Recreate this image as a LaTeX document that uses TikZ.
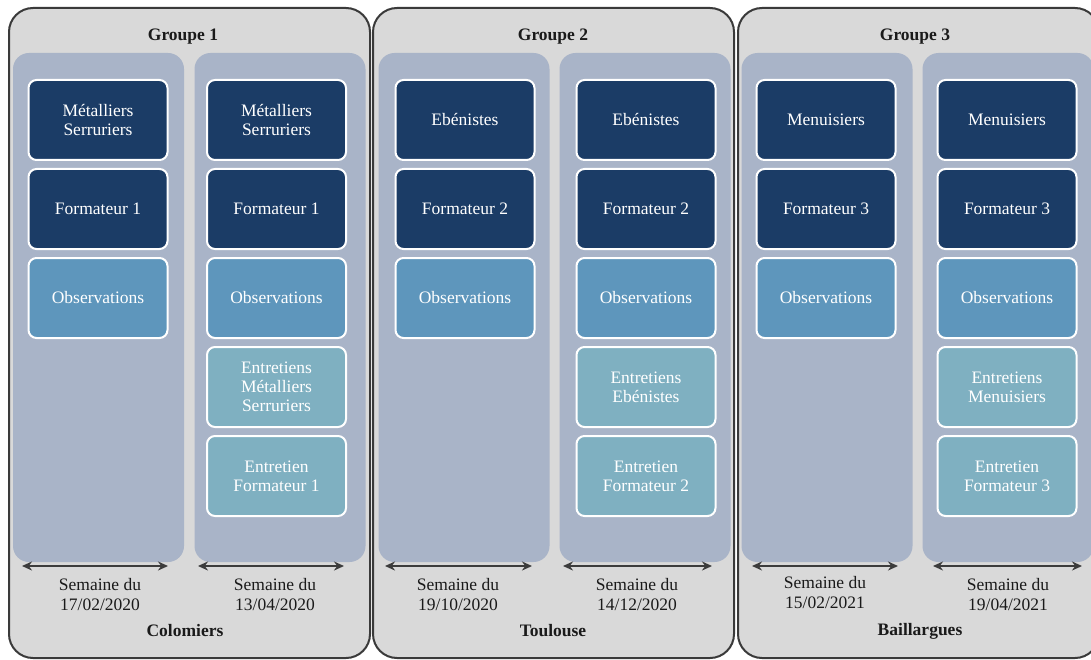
\documentclass[tikz,border=0pt]{standalone}
\usepackage{fontspec}
\setmainfont{Liberation Serif}
\usetikzlibrary{arrows.meta}
\definecolor{panelfill}{HTML}{D9D9D9}
\definecolor{panelline}{HTML}{3A3A3A}
\definecolor{colfill}{HTML}{A9B4C8}
\definecolor{navy}{HTML}{1B3C66}
\definecolor{obsblue}{HTML}{5E96BC}
\definecolor{entteal}{HTML}{7FB0C1}
\definecolor{arrowgray}{HTML}{3C3C3C}
\definecolor{txtdark}{HTML}{1A1A1A}
\begin{document}
\begin{tikzpicture}[x=1pt,y=-1pt,
  panel/.style={draw=panelline, line width=2pt, fill=panelfill, rounded corners=24pt, minimum width=361pt, minimum height=650pt, inner sep=0pt},
  colbg/.style={fill=colfill, rounded corners=16pt, minimum width=171pt, minimum height=509pt, inner sep=0pt},
  box/.style={draw=white, line width=2pt, rounded corners=8pt, minimum width=139pt, minimum height=80pt, text=white, align=center, font=\fontsize{17.5}{19}\selectfont, inner sep=2pt},
  dark/.style={box, fill=navy},
  obs/.style={box, fill=obsblue},
  ent/.style={box, fill=entteal},
  grtitle/.style={font=\fontsize{17.5}{20}\selectfont\bfseries, text=txtdark},
  week/.style={align=center, font=\fontsize{17.5}{20}\selectfont, text=txtdark},
  weekspan/.style={{Stealth[length=10pt,width=9pt]}-{Stealth[length=10pt,width=9pt]}, line width=2.5pt, draw=arrowgray}
]
\useasboundingbox (0,0) rectangle (1091,660);
\fill[white] (0,0) rectangle (1091,660);

% panels
\node[panel] (g1) at (189.5,333) {};
\node[panel] (g2) at (553.5,333) {};
\node[panel] (g3) at (918.5,333) {};

% columns
\node[colbg] (c1a) at (98.5,307.5) {};
\node[colbg] (c1b) at (280,307.5) {};
\node[colbg] (c2a) at (464,307.5) {};
\node[colbg] (c2b) at (645,307.5) {};
\node[colbg] (c3a) at (827,307.5) {};
\node[colbg] (c3b) at (1008,307.5) {};

% titles
\node[grtitle] (t1) at (183,37) {Groupe 1};
\node[grtitle] (t2) at (553,37) {Groupe 2};
\node[grtitle] (t3) at (915,37) {Groupe 3};

% group 1 boxes
\node[dark] (b1a1) at (98,120) {Métalliers\\Serruriers};
\node[dark] (b1a2) at (98,209) {Formateur 1};
\node[obs]  (b1a3) at (98,298) {Observations};
\node[dark] (b1b1) at (276.5,120) {Métalliers\\Serruriers};
\node[dark] (b1b2) at (276.5,209) {Formateur 1};
\node[obs]  (b1b3) at (276.5,298) {Observations};
\node[ent]  (b1b4) at (276.5,387) {Entretiens\\Métalliers\\Serruriers};
\node[ent]  (b1b5) at (276.5,476) {Entretien\\Formateur 1};

% group 2 boxes
\node[dark] (b2a1) at (465,120) {Ebénistes};
\node[dark] (b2a2) at (465,209) {Formateur 2};
\node[obs]  (b2a3) at (465,298) {Observations};
\node[dark] (b2b1) at (646,120) {Ebénistes};
\node[dark] (b2b2) at (646,209) {Formateur 2};
\node[obs]  (b2b3) at (646,298) {Observations};
\node[ent]  (b2b4) at (646,387) {Entretiens\\Ebénistes};
\node[ent]  (b2b5) at (646,476) {Entretien\\Formateur 2};

% group 3 boxes
\node[dark] (b3a1) at (826,120) {Menuisiers};
\node[dark] (b3a2) at (826,209) {Formateur 3};
\node[obs]  (b3a3) at (826,298) {Observations};
\node[dark] (b3b1) at (1007,120) {Menuisiers};
\node[dark] (b3b2) at (1007,209) {Formateur 3};
\node[obs]  (b3b3) at (1007,298) {Observations};
\node[ent]  (b3b4) at (1007,387) {Entretiens\\Menuisiers};
\node[ent]  (b3b5) at (1007,476) {Entretien\\Formateur 3};

% week spans
\coordinate (s1aL) at (22,566);  \coordinate (s1aR) at (168,566);
\coordinate (s1bL) at (198,566); \coordinate (s1bR) at (344,566);
\coordinate (s2aL) at (385,566); \coordinate (s2aR) at (532,566);
\coordinate (s2bL) at (563,566); \coordinate (s2bR) at (712,566);
\coordinate (s3aL) at (752,566); \coordinate (s3aR) at (898,566);
\coordinate (s3bL) at (933,566); \coordinate (s3bR) at (1082,566);
\draw[weekspan] (s1aL) -- (s1aR);
\draw[weekspan] (s1bL) -- (s1bR);
\draw[weekspan] (s2aL) -- (s2aR);
\draw[weekspan] (s2bL) -- (s2bR);
\draw[weekspan] (s3aL) -- (s3aR);
\draw[weekspan] (s3bL) -- (s3bR);

% week labels
\node[week] (w1a) at (100,595) {Semaine du\\17/02/2020};
\node[week] (w1b) at (275,595) {Semaine du\\13/04/2020};
\node[week] (w2a) at (458,595) {Semaine du\\19/10/2020};
\node[week] (w2b) at (637,595) {Semaine du\\14/12/2020};
\node[week] (w3a) at (825,593) {Semaine du\\15/02/2021};
\node[week] (w3b) at (1008,595) {Semaine du\\19/04/2021};

% places
\node[grtitle] (p1) at (185,631) {Colomiers};
\node[grtitle] (p2) at (553,631) {Toulouse};
\node[grtitle] (p3) at (920,631) {Baillargues};
\end{tikzpicture}
\end{document}
